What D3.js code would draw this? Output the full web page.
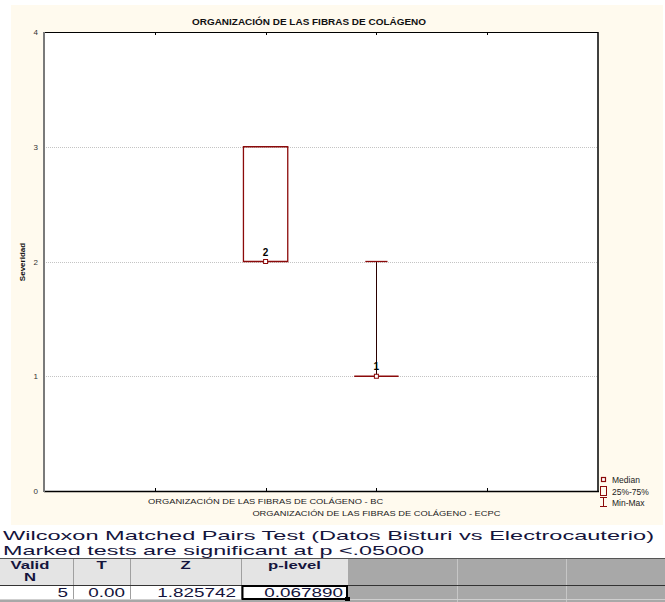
<!DOCTYPE html>
<html>
<head>
<meta charset="utf-8">
<script src="https://cdn.jsdelivr.net/npm/d3@7"></script>
<style>
  html, body { margin: 0; padding: 0; background: #ffffff; }
  svg { display: block; font-family: Arial, "Liberation Sans", sans-serif; }
</style>
</head>
<body>
<svg id="chart" width="665" height="602"></svg>
<script>
// ---- data ----
const chartTitle = "ORGANIZACIÓN DE LAS FIBRAS DE COLÁGENO";
const yTitle = "Severidad";
const categories = [
  "ORGANIZACIÓN DE LAS FIBRAS DE COLÁGENO - BC",
  "ORGANIZACIÓN DE LAS FIBRAS DE COLÁGENO - ECPC"
];
const medians = [2, 1];
const q25 = [2, 1];
const q75 = [3, 1];
const mins = [2, 1];
const maxs = [3, 2];
const yTicks = [0, 1, 2, 3, 4];
const legendLabels = ["Median", "25%-75%", "Min-Max"];

const testTitle = "Wilcoxon Matched Pairs Test (Datos Bisturi vs Electrocauterio)";
const testNote = "Marked tests are significant at p <.05000";
const tableHeaders = [["Valid", "N"], ["T"], ["Z"], ["p-level"]];
const tableValues = ["5", "0.00", "1.825742", "0.067890"];

// ---- layout ----
const svg = d3.select("#chart");
const plot = { left: 44, right: 598, top: 32, bottom: 491 };
const dark = "#8b0a0a";

// panel background
svg.append("rect").attr("x", 11).attr("y", 5).attr("width", 652).attr("height", 520)
  .attr("fill", "#fffaee");
svg.append("rect").attr("x", plot.left).attr("y", plot.top)
  .attr("width", plot.right - plot.left).attr("height", plot.bottom - plot.top)
  .attr("fill", "#ffffff");

// scales: the x axis is split in 5 slots, categories sit on the 2nd and 3rd inner ticks
const x = d3.scaleLinear().domain([0, 5]).range([plot.left, plot.right]);
const catPos = i => x(i + 2);
const slot = x(1) - x(0);
const y = d3.scaleLinear().domain([0, 4]).range([plot.bottom, plot.top]);

// horizontal grid
svg.append("g").selectAll("line").data(yTicks.filter(t => t > 0 && t < 4)).join("line")
  .attr("x1", plot.left).attr("x2", plot.right)
  .attr("y1", d => Math.round(y(d)) + 0.5).attr("y2", d => Math.round(y(d)) + 0.5)
  .attr("stroke", "#c4c4c4").attr("stroke-dasharray", "1,1");

// y axis labels
svg.append("g").selectAll("text").data(yTicks).join("text")
  .attr("x", 38).attr("y", d => y(d) + 3)
  .attr("text-anchor", "end").attr("font-size", 8).attr("fill", "#333")
  .text(d => d);

// frame
svg.append("line").attr("x1", plot.left).attr("x2", plot.right).attr("y1", plot.top + 0.5).attr("y2", plot.top + 0.5)
  .attr("stroke", "#000").attr("stroke-width", 1);
svg.append("line").attr("x1", plot.left).attr("x2", plot.right + 1).attr("y1", plot.bottom + 0.5).attr("y2", plot.bottom + 0.5)
  .attr("stroke", "#000").attr("stroke-width", 1.5);
svg.append("line").attr("x1", plot.right).attr("x2", plot.right).attr("y1", plot.top).attr("y2", plot.bottom)
  .attr("stroke", "#000").attr("stroke-width", 1.5);
svg.append("line").attr("x1", plot.left).attr("x2", plot.left).attr("y1", plot.top).attr("y2", plot.bottom + 1)
  .attr("stroke", "#7a7a7a").attr("stroke-width", 2);

// inner tick marks on top and bottom edges
const xTickVals = [1, 2, 3, 4];
svg.append("g").selectAll("line").data(xTickVals).join("line")
  .attr("x1", d => Math.round(x(d)) + 0.5).attr("x2", d => Math.round(x(d)) + 0.5)
  .attr("y1", plot.top).attr("y2", plot.top + 3).attr("stroke", "#000");
svg.append("g").selectAll("line").data(xTickVals).join("line")
  .attr("x1", d => Math.round(x(d)) + 0.5).attr("x2", d => Math.round(x(d)) + 0.5)
  .attr("y1", plot.bottom - 3).attr("y2", plot.bottom).attr("stroke", "#000");

// titles
svg.append("text").attr("x", 309).attr("y", 25).attr("text-anchor", "middle")
  .attr("font-size", 8.5).attr("font-weight", "bold").attr("fill", "#111")
  .attr("textLength", 234).attr("lengthAdjust", "spacingAndGlyphs")
  .text(chartTitle);
svg.append("text").attr("transform", "translate(25,262) rotate(-90)")
  .attr("text-anchor", "middle").attr("font-size", 8).attr("font-weight", "bold").attr("fill", "#111")
  .text(yTitle);

// category labels, staggered
svg.append("g").selectAll("text").data(categories).join("text")
  .attr("x", (d, i) => catPos(i)).attr("y", (d, i) => 504 + i * 12)
  .attr("text-anchor", "middle").attr("font-size", 8).attr("fill", "#222")
  .attr("textLength", (d, i) => i === 0 ? 235 : 248).attr("lengthAdjust", "spacingAndGlyphs")
  .text(d => d);

// boxes
const boxW = slot * 0.4;
const capW = slot * 0.2;
const idx = d3.range(categories.length);

// whiskers (min-max)
const wg = svg.append("g");
wg.selectAll("line.w").data(idx).join("line")
  .attr("x1", i => Math.round(catPos(i)) + 0.5).attr("x2", i => Math.round(catPos(i)) + 0.5)
  .attr("y1", i => y(maxs[i])).attr("y2", i => y(q75[i]))
  .attr("stroke", "#2a0000").attr("stroke-width", 1);
wg.selectAll("line.w2").data(idx).join("line")
  .attr("x1", i => Math.round(catPos(i)) + 0.5).attr("x2", i => Math.round(catPos(i)) + 0.5)
  .attr("y1", i => y(q25[i])).attr("y2", i => y(mins[i]))
  .attr("stroke", "#2a0000").attr("stroke-width", 1);
wg.selectAll("line.cmax").data(idx.filter(i => maxs[i] > q75[i])).join("line")
  .attr("x1", i => catPos(i) - capW / 2).attr("x2", i => catPos(i) + capW / 2)
  .attr("y1", i => y(maxs[i])).attr("y2", i => y(maxs[i]))
  .attr("stroke", dark).attr("stroke-width", 1.3);
wg.selectAll("line.cmin").data(idx.filter(i => mins[i] < q25[i])).join("line")
  .attr("x1", i => catPos(i) - capW / 2).attr("x2", i => catPos(i) + capW / 2)
  .attr("y1", i => y(mins[i])).attr("y2", i => y(mins[i]))
  .attr("stroke", dark).attr("stroke-width", 1.3);

// 25%-75% boxes, drawn as paths so a box with equal quartiles still shows as a line
svg.append("g").selectAll("path").data(idx).join("path")
  .attr("d", i => {
    const x0 = catPos(i) - boxW / 2, x1 = catPos(i) + boxW / 2;
    const y0 = y(q75[i]), y1 = y(q25[i]);
    return `M${x0},${y0}H${x1}V${y1}H${x0}Z`;
  })
  .attr("fill", "none").attr("stroke", dark).attr("stroke-width", 1.3);

// median markers and labels
svg.append("g").selectAll("rect").data(idx).join("rect")
  .attr("x", i => catPos(i) - 2).attr("y", i => y(medians[i]) - 2)
  .attr("width", 4).attr("height", 4)
  .attr("fill", "#fff").attr("stroke", dark).attr("stroke-width", 1);
svg.append("g").selectAll("text").data(idx).join("text")
  .attr("x", i => catPos(i)).attr("y", i => y(medians[i]) - 6)
  .attr("text-anchor", "middle").attr("font-size", 10).attr("font-weight", "bold").attr("fill", "#000")
  .text(i => medians[i]);

// legend
const lg = svg.append("g");
lg.append("rect").attr("x", 601.5).attr("y", 477.5).attr("width", 4).attr("height", 4)
  .attr("fill", "#fff").attr("stroke", dark).attr("stroke-width", 1.2);
lg.append("rect").attr("x", 600.5).attr("y", 486.5).attr("width", 6).attr("height", 9)
  .attr("fill", "none").attr("stroke", dark).attr("stroke-width", 1);
lg.append("line").attr("x1", 603.5).attr("x2", 603.5).attr("y1", 497).attr("y2", 507).attr("stroke", dark);
lg.append("line").attr("x1", 600).attr("x2", 607).attr("y1", 497.5).attr("y2", 497.5).attr("stroke", dark);
lg.append("line").attr("x1", 600).attr("x2", 607).attr("y1", 506.5).attr("y2", 506.5).attr("stroke", dark);
lg.selectAll("text").data(legendLabels).join("text")
  .attr("x", 612).attr("y", (d, i) => 483 + i * 11.5)
  .attr("font-size", 8.5).attr("fill", "#222").text(d => d);

// ---- results table ----
const ink = "#14143c";
const tg = svg.append("g");
tg.append("text").attr("x", 3).attr("y", 540).attr("font-size", 13).attr("fill", ink)
  .attr("textLength", 651).attr("lengthAdjust", "spacingAndGlyphs").text(testTitle);
tg.append("text").attr("x", 3).attr("y", 555).attr("font-size", 13).attr("fill", ink)
  .attr("textLength", 421).attr("lengthAdjust", "spacingAndGlyphs").text(testNote);

const colEdges = [0, 73, 130, 241, 348];
const grayEdges = [348, 457, 566, 665];
const headTop = 558, rowTop = 585, rowBot = 599;

// header cells
tg.append("g").selectAll("rect").data(d3.range(4)).join("rect")
  .attr("x", i => colEdges[i]).attr("y", headTop).attr("width", i => colEdges[i + 1] - colEdges[i])
  .attr("height", rowTop - headTop).attr("fill", "#e4e4e4");
// grey filler columns
tg.append("rect").attr("x", 348).attr("y", headTop).attr("width", 317).attr("height", 602 - headTop)
  .attr("fill", "#a8a8a8");
tg.append("rect").attr("x", 0).attr("y", rowBot).attr("width", 348).attr("height", 602 - rowBot)
  .attr("fill", "#a8a8a8");
// data row background
tg.append("rect").attr("x", 0).attr("y", rowTop).attr("width", 348).attr("height", rowBot - rowTop)
  .attr("fill", "#ffffff");

// column separators
tg.append("g").selectAll("line").data(colEdges.slice(1, 4)).join("line")
  .attr("x1", d => d + 0.5).attr("x2", d => d + 0.5).attr("y1", headTop).attr("y2", rowBot)
  .attr("stroke", "#a0a0a0");
tg.append("g").selectAll("line").data(grayEdges.slice(1, 3)).join("line")
  .attr("x1", d => d + 0.5).attr("x2", d => d + 0.5).attr("y1", headTop).attr("y2", 602)
  .attr("stroke", "#c6c6c6");
// row rules
tg.append("line").attr("x1", 0).attr("x2", 665).attr("y1", headTop + 0.5).attr("y2", headTop + 0.5)
  .attr("stroke", "#555").attr("stroke-width", 1.2);
tg.append("line").attr("x1", 0).attr("x2", 665).attr("y1", rowTop + 0.5).attr("y2", rowTop + 0.5)
  .attr("stroke", "#333").attr("stroke-width", 1.2);
tg.append("line").attr("x1", 0).attr("x2", 665).attr("y1", rowBot + 0.5).attr("y2", rowBot + 0.5)
  .attr("stroke", "#cfcfcf");

// header labels
const stretch = 1.45;
tableHeaders.forEach((lines, i) => {
  const cx = i === 0 ? 30 : (colEdges[i] + colEdges[i + 1]) / 2;
  lines.forEach((s, j) => {
    const t = tg.append("text").attr("x", cx).attr("y", 569 + j * 12)
      .attr("text-anchor", "middle").attr("font-size", 11.5)
      .attr("font-weight", "bold").attr("fill", ink).text(s);
    const w = t.node().getComputedTextLength();
    t.attr("textLength", w * stretch).attr("lengthAdjust", "spacingAndGlyphs");
  });
});

// values, right aligned
tableValues.forEach((s, i) => {
  const t = tg.append("text").attr("x", colEdges[i + 1] - 5).attr("y", 597)
    .attr("text-anchor", "end").attr("font-size", 13).attr("fill", ink).text(s);
  const w = t.node().getComputedTextLength();
  t.attr("textLength", w * stretch).attr("lengthAdjust", "spacingAndGlyphs");
});

// selected cell outline
tg.append("rect").attr("x", colEdges[3] + 1.5).attr("y", rowTop + 1).attr("width", colEdges[4] - colEdges[3] - 2.5)
  .attr("height", rowBot - rowTop - 1).attr("fill", "none").attr("stroke", "#000").attr("stroke-width", 2);
tg.append("rect").attr("x", colEdges[4] - 3).attr("y", rowBot - 2).attr("width", 5).attr("height", 4).attr("fill", "#000");
</script>
</body>
</html>
